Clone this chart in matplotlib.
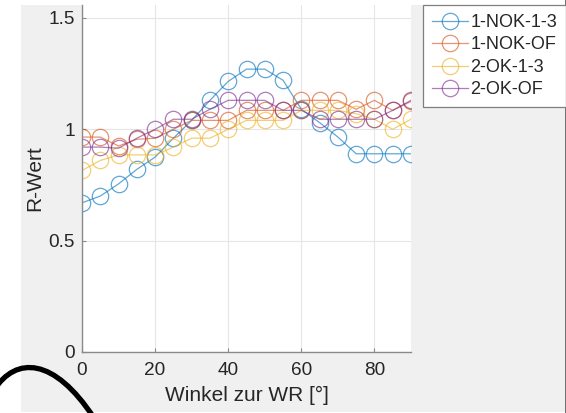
#!/usr/bin/env python3
"""R-Wert ueber Winkel zur WR, MATLAB-artiger Plot."""
import matplotlib
matplotlib.use("Agg")
import matplotlib.pyplot as plt
from matplotlib.patches import Rectangle, PathPatch
from matplotlib.path import Path


WINKEL = [0, 5, 10, 15, 20, 25, 30, 35, 40, 45, 50, 55, 60, 65, 70, 75, 80, 85, 90]

NOK_1_3 = [0.67, 0.70, 0.755, 0.82, 0.875, 0.96, 1.04, 1.13, 1.215, 1.27,
           1.27, 1.22, 1.09, 1.03, 0.965, 0.89, 0.89, 0.89, 0.89]
NOK_OF = [0.965, 0.965, 0.925, 0.955, 0.96, 1.0, 1.04, 1.04, 1.04, 1.085,
          1.085, 1.085, 1.13, 1.13, 1.13, 1.09, 1.13, 1.085, 1.125]
OK_1_3 = [0.815, 0.86, 0.885, 0.885, 0.885, 0.92, 0.96, 0.96, 1.0, 1.04,
          1.04, 1.04, 1.085, 1.085, 1.085, 1.07, 1.045, 1.0, 1.045]
OK_OF = [0.92, 0.92, 0.915, 0.96, 1.0, 1.045, 1.045, 1.09, 1.13, 1.13,
         1.13, 1.085, 1.085, 1.045, 1.045, 1.045, 1.045, 1.085, 1.13]

SERIES = [
    ("1-NOK-1-3", NOK_1_3, "#0072BD"),
    ("1-NOK-OF", NOK_OF, "#D95319"),
    ("2-OK-1-3", OK_1_3, "#EDB120"),
    ("2-OK-OF", OK_OF, "#7E2F8E"),
]

X_TICKS = [0, 20, 40, 60, 80]
Y_TICKS = [0, 0.5, 1, 1.5]
Y_TICK_LABELS = ["0", "0.5", "1", "1.5"]

W, H = 566, 413


def px(x, y):
    # pixel (from top-left) -> figure fraction
    return x / W, 1 - y / H


def main():
    plt.rcParams["font.family"] = ["Liberation Sans", "DejaVu Sans"]
    fig = plt.figure(figsize=(W / 100, H / 100), dpi=100, facecolor="white")

    # grey MATLAB window background
    x0, y0 = px(21, 412)
    x1, y1 = px(565, 5)
    fig.add_artist(Rectangle((x0, y0), x1 - x0, y1 - y0, transform=fig.transFigure,
                             facecolor="#f0f0f0", edgecolor="none", zorder=-5))
    fig.add_artist(plt.Line2D([565.5 / W, 565.5 / W], [0, 1], transform=fig.transFigure,
                              color="#555555", lw=1.2, zorder=-4))

    left, bottom = px(82, 352)
    right, top = px(411, 5)
    ax = fig.add_axes([left, bottom, right - left, top - bottom])
    ax.set_facecolor("white")

    for name, values, color in SERIES:
        ax.plot(WINKEL, values, color=color, alpha=0.62, lw=0.9, marker="o",
                markersize=11.8, markerfacecolor="none", markeredgewidth=0.9,
                label=name)

    ax.set_xlim(0, 90)
    ax.set_ylim(0, 1.558)
    ax.set_xticks(X_TICKS)
    ax.set_yticks(Y_TICKS, Y_TICK_LABELS)
    ax.grid(True, color="#e6e6e6", lw=0.8)
    ax.set_axisbelow(True)
    for side in ("top", "right"):
        ax.spines[side].set_visible(False)
    for side in ("left", "bottom"):
        ax.spines[side].set_color("#8a8a8a")
        ax.spines[side].set_linewidth(1.0)
    ax.tick_params(direction="in", length=3, width=0.8, color="#8a8a8a",
                   labelsize=13.7, labelcolor="#262626")
    ax.tick_params(axis="x", pad=7)
    ax.tick_params(axis="y", pad=5)

    ax.set_xlabel("Winkel zur WR [°]", fontsize=15, color="#262626")
    ax.set_ylabel("R-Wert", fontsize=15, color="#262626")
    ax.xaxis.set_label_coords(0.5, -0.098)
    ax.yaxis.set_label_coords(-0.115, 0.5)

    leg = ax.legend(loc="upper left", bbox_to_anchor=px(423, 5),
                    bbox_transform=fig.transFigure, borderaxespad=0,
                    fontsize=13, frameon=True, fancybox=False, framealpha=1,
                    handlelength=2.0, handletextpad=0.12, labelspacing=0.3,
                    borderpad=0.5)
    leg.get_frame().set_edgecolor("#7f7f7f")
    leg.get_frame().set_linewidth(0.9)
    for text in leg.get_texts():
        text.set_color("#262626")

    # black pen stroke in the lower left corner
    pts = [px(-6, 390), px(16, 356), px(54, 357), px(94, 418)]
    stroke = Path(pts, [Path.MOVETO, Path.CURVE4, Path.CURVE4, Path.CURVE4])
    fig.add_artist(PathPatch(stroke, transform=fig.transFigure, facecolor="none",
                             edgecolor="black", lw=3.8, clip_on=False, zorder=5))

    fig.savefig("out.png", dpi=100, facecolor="white")
    plt.close(fig)


if __name__ == "__main__":
    main()
